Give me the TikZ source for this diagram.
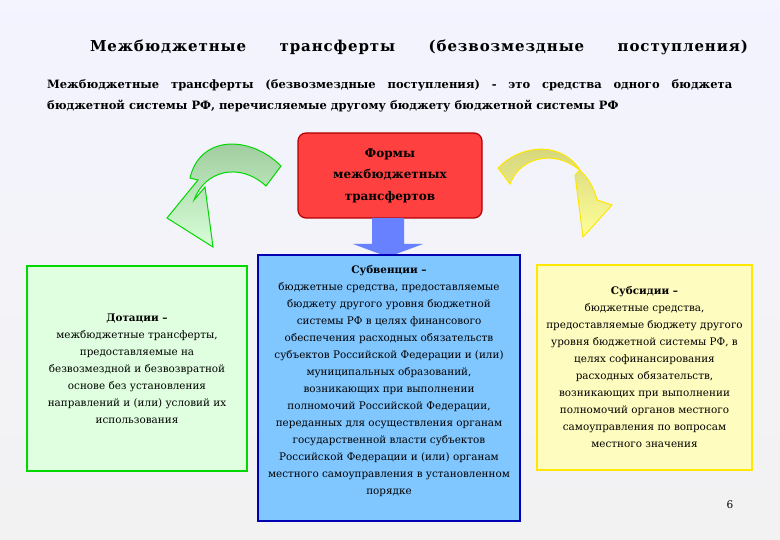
\documentclass[tikz,border=0pt]{standalone}
\usepackage{fontspec}
\setmainfont{DejaVu Serif}
\begin{document}
\begin{tikzpicture}[x=1pt,y=-1pt,
  txt/.style={align=center,font=\fontsize{10.4}{17}\selectfont,text=black},
  box/.style={draw,line width=1.2pt}]
\useasboundingbox (0,0) rectangle (780,540);
\shade[top color=white!85!blue!30, bottom color=gray!10] (0,0) rectangle (780,540);
\node (title) at (419,47) {\fontsize{15}{18}\selectfont\bfseries\addfontfeature{LetterSpace=6}\makebox[658pt][s]{Межбюджетные трансферты (безвозмездные поступления)}};
\node[align=left,font=\fontsize{11.5}{21}\selectfont\bfseries,anchor=north west,inner sep=0pt] (def) at (47,79)
 {\makebox[685pt][s]{Межбюджетные трансферты (безвозмездные поступления) - это средства одного бюджета}\\бюджетной системы РФ, перечисляемые другому бюджету бюджетной системы РФ};
% red box
\node[box,draw=red!70!black,fill=red!75!white,rounded corners=8pt,minimum width=184pt,minimum height=85pt,txt,font=\fontsize{12}{21.5}\selectfont\bfseries] (forms) at (390,175.5) {Формы\\межбюджетных\\трансфертов};
% down arrow
\fill[blue!55!white!90!cyan] (372,218) -- (404,218) -- (404,244) -- (423,244) -- (388,257) -- (353,244) -- (372,244) -- cycle;
% boxes
\node[box,draw=green!85!black,fill=green!12!white,minimum width=220pt,minimum height=205pt] (dot) at (137,368.5) {};
\node[txt] at (137,369) {\textbf{Дотации –}\\межбюджетные трансферты,\\предоставляемые на\\безвозмездной и безвозвратной\\основе без установления\\направлений и (или) условий их\\использования};
\node[box,draw=blue!70!black,fill=blue!45!cyan!50!white,minimum width=262pt,minimum height=266pt] (sub) at (389,388) {};
\node[txt,anchor=north] at (389,262) {\textbf{Субвенции –}\\бюджетные средства, предоставляемые\\бюджету другого уровня бюджетной\\системы РФ в целях финансового\\обеспечения расходных обязательств\\субъектов Российской Федерации и (или)\\муниципальных образований,\\возникающих при выполнении\\полномочий Российской Федерации,\\переданных для осуществления органам\\государственной власти субъектов\\Российской Федерации и (или) органам\\местного самоуправления в установленном\\порядке};
\node[box,draw=yellow!90!orange,fill=yellow!25!white,minimum width=215pt,minimum height=205pt] (sbs) at (644.5,367.5) {};
\node[txt] at (644.5,367) {\textbf{Субсидии –}\\бюджетные средства,\\предоставляемые бюджету другого\\уровня бюджетной системы РФ, в\\целях софинансирования\\расходных обязательств,\\возникающих при выполнении\\полномочий органов местного\\самоуправления по вопросам\\местного значения};
\node (num) at (730,505) {\fontsize{10.5}{13}\selectfont 6};
% green curved arrow
\path[draw=green!85!black,line width=1pt,top color=green!30!gray!60,bottom color=green!15!white]
 (281,166) .. controls (250,135) and (200,135) .. (190,178)
 -- (198,180) -- (167,218) -- (213,247) -- (205,187) -- (194,200)
 .. controls (205,170) and (240,162) .. (266,186) -- cycle;
% yellow curved arrow
\path[draw=yellow!90!orange,line width=1pt,top color=yellow!50!gray!70,bottom color=yellow!40!white]
 (498,168) .. controls (520,145) and (560,140) .. (580,170)
 -- (575,175) -- (583,237) -- (612,205) -- (597,200)
 .. controls (585,150) and (525,145) .. (510,184) -- cycle;
\end{tikzpicture}
\end{document}
